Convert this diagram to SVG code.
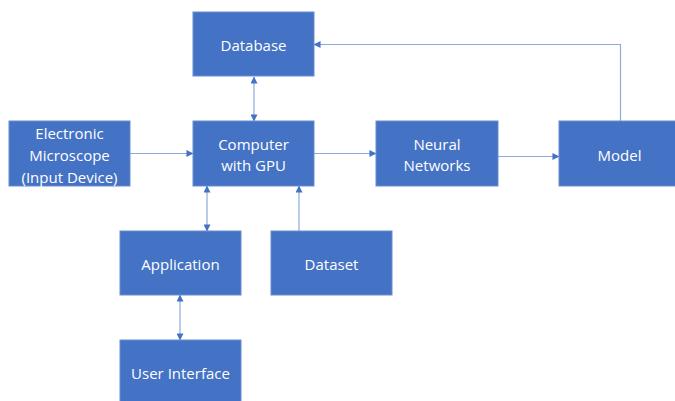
<svg xmlns="http://www.w3.org/2000/svg" width="675" height="401" viewBox="0 0 675 401">
<defs>
<style>
.box{fill:#4472C4;stroke:#6A8ED0;stroke-width:1}
.lbl{fill:#FFFFFF;font-family:"Open Sans","Noto Sans",sans-serif;font-size:15px;text-anchor:middle;dominant-baseline:central}
.cn{fill:none;stroke:#8EA9DE;stroke-width:1.2}
</style>
<marker id="ah" viewBox="0 0 8 8" refX="7.5" refY="4" markerWidth="7" markerHeight="7" markerUnits="userSpaceOnUse" orient="auto-start-reverse">
<path d="M0,0 L8,4 L0,8 Z" fill="#4472C4"/>
</marker>
</defs>
<rect width="675" height="401" fill="#FFFFFF"/>
<g id="connectors">
<line class="cn" x1="254" y1="77" x2="254" y2="121" marker-start="url(#ah)" marker-end="url(#ah)"/>
<line class="cn" x1="130" y1="153.5" x2="193" y2="153.5" marker-end="url(#ah)"/>
<line class="cn" x1="314" y1="153.5" x2="376" y2="153.5" marker-end="url(#ah)"/>
<line class="cn" x1="498" y1="156.5" x2="559" y2="156.5" marker-end="url(#ah)"/>
<polyline class="cn" points="620.5,121 620.5,44.5 314,44.5" marker-end="url(#ah)"/>
<line class="cn" x1="207" y1="186" x2="207" y2="231" marker-start="url(#ah)" marker-end="url(#ah)"/>
<line class="cn" x1="299" y1="231" x2="299" y2="186" marker-end="url(#ah)"/>
<line class="cn" x1="180" y1="295" x2="180" y2="340" marker-start="url(#ah)" marker-end="url(#ah)"/>
</g>
<g id="database"><rect class="box" x="193" y="12" width="121" height="64"/><text class="lbl" x="253.5" y="45">Database</text></g>
<g id="computer"><rect class="box" x="193" y="121" width="121" height="65"/><text class="lbl" x="253.5" y="143.5">Computer</text><text class="lbl" x="253.5" y="165">with GPU</text></g>
<g id="microscope"><rect class="box" x="9" y="121" width="121" height="65"/><text class="lbl" x="69.5" y="133">Electronic</text><text class="lbl" x="69.5" y="155">Microscope</text><text class="lbl" x="69.5" y="176.5">(Input Device)</text></g>
<g id="neural"><rect class="box" x="376" y="121" width="122" height="65"/><text class="lbl" x="437" y="143.5">Neural</text><text class="lbl" x="437" y="165">Networks</text></g>
<g id="model"><rect class="box" x="559" y="121" width="121" height="65"/><text class="lbl" x="619.5" y="154.5">Model</text></g>
<g id="application"><rect class="box" x="120" y="231" width="121" height="64"/><text class="lbl" x="180.5" y="263.5">Application</text></g>
<g id="dataset"><rect class="box" x="271" y="231" width="121" height="64"/><text class="lbl" x="331.5" y="263.5">Dataset</text></g>
<g id="userinterface"><rect class="box" x="120" y="340" width="121" height="64"/><text class="lbl" x="180.5" y="372.5">User Interface</text></g>
</svg>
